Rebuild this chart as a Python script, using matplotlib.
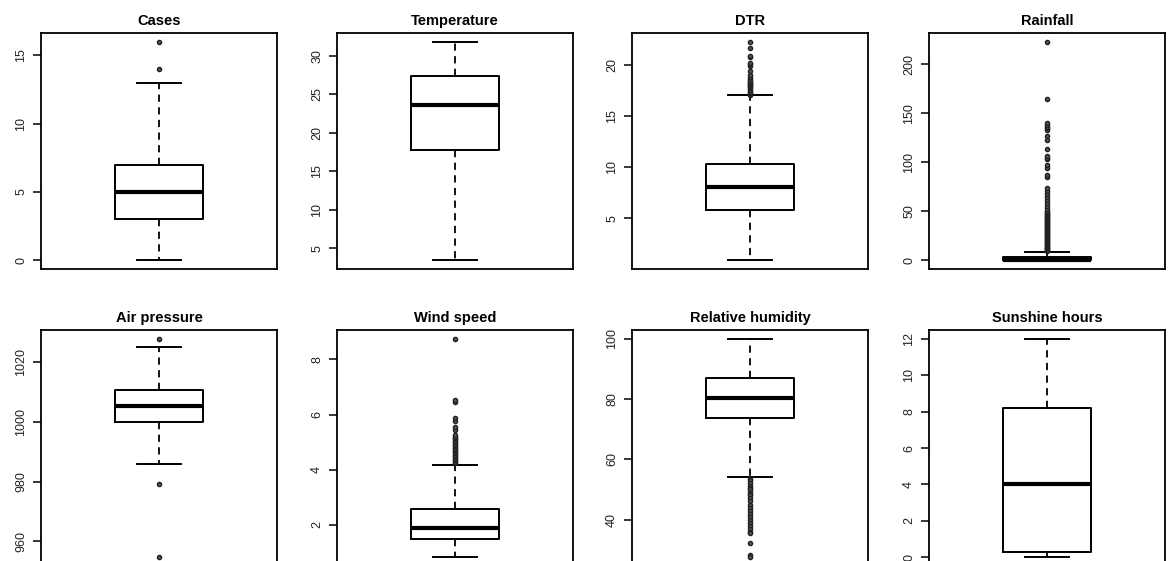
import matplotlib
matplotlib.use("Agg")
import matplotlib.pyplot as plt

plt.rcParams['font.family'] = ['Liberation Sans', 'DejaVu Sans']

# box summaries: (q1, median, q3, lower whisker, upper whisker)
titles = ["Cases", "Temperature", "DTR", "Rainfall",
          "Air pressure", "Wind speed", "Relative humidity", "Sunshine hours"]

q1 = [3, 17.74, 5.81, 0, 1000.0, 1.49, 73.8, 0.29]
med = [5, 23.57, 8.01, 0, 1005.3, 1.88, 80.4, 4.02]
q3 = [7, 27.41, 10.32, 3.4, 1010.5, 2.57, 87.0, 8.2]
whislo = [0, 3.45, 0.89, 0, 986.0, 0.83, 54.1, 0]
whishi = [13, 31.85, 17.02, 8.5, 1025.0, 4.19, 100, 12]

cases_out = [14, 16]
temp_out = []
dtr_out = [17.1, 17.2, 17.3, 17.4, 17.5, 17.7, 17.8, 17.9, 18.0, 18.1, 18.2,
           18.3, 18.4, 18.6, 18.8, 19.06, 19.45, 19.94, 20.06, 20.2, 20.74,
           20.84, 21.7, 22.27]
rain_out = [9, 10, 11, 12, 13, 14, 15, 16, 17, 18, 19, 20, 21, 22, 23, 24, 25,
            26, 27, 28, 29, 30, 31, 32, 33, 34, 35, 36, 37, 38, 39, 40, 41, 42,
            43, 44, 45, 46, 47, 48, 49, 50, 52, 55, 58, 62, 65, 68, 71, 74,
            85, 87.5, 94.3, 97.7, 103, 104.5, 106, 114, 123, 126.4, 133,
            134.5, 136, 138, 140, 164.8, 223]
pres_out = [954.7, 979.1, 1027.7]
wind_out = [4.25, 4.3, 4.35, 4.4, 4.45, 4.5, 4.55, 4.6, 4.65, 4.7, 4.75, 4.8,
            4.85, 4.9, 4.95, 5.0, 5.05, 5.1, 5.15, 5.2, 5.25, 5.43, 5.55,
            5.77, 5.86, 6.46, 6.54, 8.75]
rh_out = [53.5, 53, 52, 51, 50.5, 50, 49, 48.5, 48, 47, 46, 45, 44, 43, 42,
          41, 40, 39, 38, 37, 36, 35.5, 32.1, 28.1, 27.5]
sun_out = []
fliers = [cases_out, temp_out, dtr_out, rain_out,
          pres_out, wind_out, rh_out, sun_out]

yticks = [[0, 5, 10, 15], [5, 10, 15, 20, 25, 30], [5, 10, 15, 20],
          [0, 50, 100, 150, 200], [960, 980, 1000, 1020], [2, 4, 6, 8],
          [40, 60, 80, 100], [0, 2, 4, 6, 8, 10, 12]]

W, H = 1170, 561
fig = plt.figure(figsize=(W / 100, H / 100), dpi=100)

lefts = [41, 337, 632, 929]
tops = [33, 330]
aw, ah = 236, 236

for i in range(8):
    r, c = divmod(i, 4)
    ax = fig.add_axes([lefts[c] / W, 1 - (tops[r] + ah) / H, aw / W, ah / H])
    stats = [dict(q1=q1[i], med=med[i], q3=q3[i], whislo=whislo[i],
                  whishi=whishi[i], fliers=fliers[i])]
    ax.bxp(stats, positions=[1], widths=0.4, capwidths=0.2,
           boxprops=dict(color="black", linewidth=1.4),
           medianprops=dict(color="black", linewidth=3.0, solid_capstyle="butt"),
           whiskerprops=dict(color="black", linewidth=1.3, linestyle=(0, (4, 3))),
           capprops=dict(color="black", linewidth=1.4),
           flierprops=dict(marker="o", markersize=3, markerfacecolor="#555555",
                           markeredgecolor="#222222", markeredgewidth=1.0))

    # R style limits: data range padded by 4%
    vals = [whislo[i], whishi[i]] + fliers[i]
    lo, hi = min(vals), max(vals)
    pad = (hi - lo) * 0.04
    ax.set_ylim(lo - pad, hi + pad)
    ax.set_xlim(0.46, 1.54)

    ax.set_title(titles[i], fontsize=10.5, fontweight="bold", pad=6)
    ax.set_xticks([])
    ax.set_yticks(yticks[i])
    ax.tick_params(axis="y", length=6, width=1.1, labelsize=9,
                   labelcolor="#222222", pad=4)
    for lab in ax.get_yticklabels():
        lab.set_rotation(90)
        lab.set_va("center")
    for s in ax.spines.values():
        s.set_linewidth(1.3)

fig.savefig("out.png", dpi=100)
